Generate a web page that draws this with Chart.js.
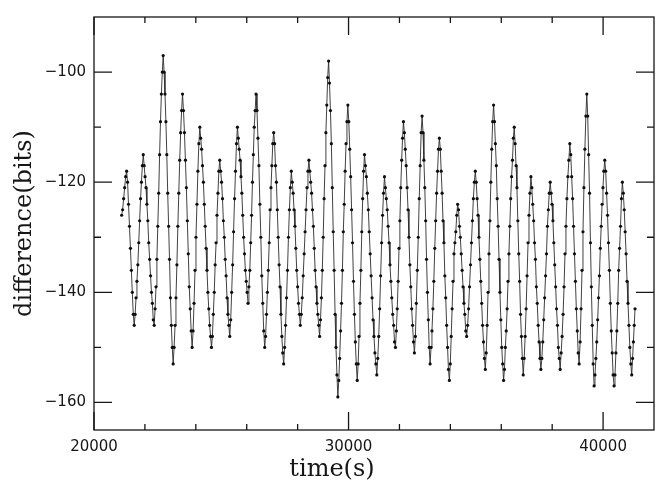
<!DOCTYPE html>
<html>
<head>
<meta charset="utf-8">
<script src="https://cdn.jsdelivr.net/npm/chart.js@4"></script>
<style>
  html, body { margin: 0; padding: 0; background: #fff; }
  #wrap { width: 658px; height: 485px; }
</style>
</head>
<body>
<div id="wrap"><canvas id="grafico" width="658" height="485"></canvas></div>
<script>
// sample times (s)
const times = [
  21086, 21125, 21164, 21204, 21243, 21282,
  21319, 21356, 21394, 21431, 21468, 21505, 21543, 21580,
  21616, 21651, 21687, 21722, 21758, 21793, 21829, 21864, 21900, 21935,
  21971, 22007, 22043, 22078, 22114, 22150, 22186, 22222, 22258, 22293, 22329, 22365,
  22400, 22436, 22471, 22506, 22542, 22577, 22612, 22647, 22683, 22718,
  22754, 22789, 22825, 22860, 22896, 22932, 22967, 23003, 23039, 23074, 23110,
  23147, 23184, 23220, 23257, 23294, 23331, 23368, 23404, 23441, 23478,
  23516, 23553, 23591, 23629, 23667, 23704, 23742, 23780, 23817, 23855,
  23893, 23930, 23968, 24006, 24044, 24081, 24119, 24157,
  24192, 24227, 24263, 24298, 24333, 24368, 24403, 24439, 24474, 24509, 24544, 24580, 24615,
  24651, 24687, 24724, 24760, 24796, 24832, 24869, 24905, 24941,
  24977, 25012, 25048, 25083, 25119, 25155, 25190, 25226, 25262, 25297, 25333,
  25371, 25408, 25446, 25484, 25522, 25559, 25597, 25635,
  25670, 25704, 25739, 25774, 25808, 25843, 25878, 25912, 25947, 25982, 26016, 26051,
  26086, 26121, 26156, 26191, 26225, 26260, 26295, 26330, 26365,
  26403, 26441, 26479, 26517, 26554, 26592, 26630, 26668, 26706,
  26741, 26777, 26812, 26847, 26883, 26918, 26953, 26988, 27024, 27059,
  27095, 27130, 27166, 27201, 27237, 27273, 27308, 27344, 27380, 27415, 27451,
  27489, 27526, 27564, 27601, 27639, 27677, 27714, 27752,
  27787, 27823, 27858, 27894, 27929, 27964, 28000, 28035, 28071, 28106,
  28143, 28181, 28218, 28256, 28293, 28330, 28368, 28405, 28443,
  28478, 28513, 28548, 28583, 28618, 28653, 28688, 28723, 28758, 28793, 28828, 28863,
  28898, 28934, 28969, 29004, 29040, 29075, 29110, 29145, 29181, 29216,
  29252, 29289, 29325, 29362, 29398, 29434, 29471, 29507, 29544, 29580,
  29616, 29651, 29687, 29723, 29759, 29794, 29830, 29866, 29902, 29937, 29973,
  30010, 30047, 30083, 30120, 30157, 30194, 30231, 30267, 30304, 30341,
  30377, 30413, 30448, 30484, 30520, 30556, 30591, 30627,
  30664, 30701, 30739, 30776, 30813, 30850, 30887, 30925, 30962, 30999, 31036, 31073, 31110,
  31148, 31186, 31223, 31261, 31299, 31337, 31374, 31412,
  31448, 31484, 31520, 31556, 31592, 31628, 31663, 31699, 31735, 31771, 31807, 31843,
  31878, 31913, 31948, 31983, 32017, 32052, 32087, 32122, 32157,
  32193, 32229, 32265, 32301, 32337, 32373, 32409, 32445, 32480, 32516, 32552, 32588,
  32626, 32663, 32701, 32739, 32777, 32814, 32852, 32890,
  32925, 32960, 32995, 33030, 33064, 33099, 33134, 33169, 33204,
  33241, 33277, 33314, 33350, 33387, 33423, 33460, 33496, 33533, 33569,
  33605, 33640, 33676, 33711, 33747, 33783, 33818, 33854, 33890, 33925, 33961,
  33997, 34033, 34069, 34105, 34142, 34178, 34214, 34250, 34286,
  34321, 34357, 34392, 34427, 34463, 34498, 34533, 34568, 34604, 34639,
  34677, 34715, 34753, 34791, 34828, 34866, 34904, 34942, 34980,
  35016, 35052, 35087, 35123, 35159, 35195, 35230, 35266, 35302, 35337, 35373,
  35409, 35445, 35481, 35517, 35554, 35590, 35626, 35662, 35698,
  35734, 35769, 35805, 35840, 35876, 35912, 35947, 35983, 36019, 36054, 36090,
  36125, 36160, 36195, 36230, 36265, 36300, 36335, 36370, 36405, 36440, 36475, 36510,
  36545, 36581, 36616, 36651, 36687, 36722, 36757, 36792, 36828, 36863,
  36901, 36938, 36976, 37014, 37052, 37089, 37127, 37165,
  37201, 37236, 37272, 37307, 37343, 37379, 37414, 37450, 37486, 37521, 37557,
  37594, 37630, 37667, 37703, 37740, 37776, 37813, 37849, 37886, 37922,
  37958, 37993, 38029, 38064, 38100, 38136, 38171, 38207, 38243, 38278, 38314,
  38352, 38390, 38428, 38466, 38504, 38541, 38579, 38617, 38655, 38693,
  38730, 38766, 38803, 38839, 38876, 38913, 38949, 38986, 39022, 39059,
  39097, 39134, 39172, 39210, 39247, 39285, 39322, 39360,
  39396, 39432, 39468, 39504, 39539, 39575, 39611, 39647,
  39682, 39717, 39751, 39786, 39821, 39856, 39891, 39926, 39960, 39995, 40030, 40065,
  40102, 40138, 40175, 40211, 40248, 40285, 40321, 40358, 40394, 40431,
  40467, 40503, 40540, 40576, 40612, 40648, 40685, 40721, 40757,
  40794, 40831, 40867, 40904, 40941, 40978, 41015, 41051, 41088, 41125,
  41158, 41190, 41223, 41255
];

// difference in bits, same order as times
const bits = [
  -126, -125, -123, -121, -119, -118,
  -120, -124, -128, -132, -136, -140, -144, -146,
  -144, -141, -138, -135, -131, -127, -123, -120, -117, -115,
  -117, -119, -121, -124, -127, -131, -134, -137, -140, -142, -145, -146,
  -143, -139, -134, -128, -122, -115, -109, -104, -100, -97,
  -100, -104, -109, -115, -122, -128, -134, -141, -146, -150, -153,
  -150, -146, -141, -135, -128, -122, -116, -111, -107, -104,
  -107, -111, -116, -121, -127, -133, -139, -143, -147, -150,
  -147, -142, -136, -130, -124, -118, -113, -110,
  -112, -114, -117, -120, -124, -128, -132, -136, -140, -143, -146, -148, -150,
  -148, -144, -140, -135, -131, -126, -122, -118, -116,
  -118, -120, -123, -127, -130, -134, -137, -141, -144, -146, -148,
  -145, -140, -135, -129, -123, -118, -113, -110,
  -112, -114, -116, -119, -122, -126, -130, -133, -136, -138, -140, -142,
  -139, -136, -131, -126, -120, -115, -110, -107, -104,
  -107, -112, -117, -124, -130, -137, -142, -147, -150,
  -148, -144, -140, -136, -131, -125, -121, -117, -113, -111,
  -113, -117, -120, -125, -130, -135, -139, -144, -148, -151, -153,
  -150, -146, -141, -136, -130, -125, -121, -118,
  -120, -122, -125, -128, -132, -136, -139, -142, -144, -146,
  -144, -141, -137, -133, -129, -125, -121, -118, -116,
  -118, -120, -122, -125, -128, -132, -136, -139, -142, -144, -146, -148,
  -145, -141, -136, -130, -123, -117, -111, -106, -101, -98,
  -102, -107, -113, -121, -129, -136, -144, -150, -155, -159,
  -156, -152, -147, -142, -136, -129, -124, -118, -113, -109, -106,
  -109, -114, -119, -125, -131, -138, -144, -149, -153, -156,
  -153, -148, -142, -136, -129, -123, -118, -115,
  -117, -119, -122, -125, -129, -133, -137, -141, -145, -148, -151, -153, -155,
  -152, -148, -143, -137, -131, -126, -122, -119,
  -121, -123, -125, -128, -131, -135, -138, -141, -144, -146, -149, -150,
  -147, -143, -138, -132, -127, -121, -116, -112, -109,
  -111, -114, -117, -121, -125, -130, -135, -139, -143, -146, -149, -151,
  -148, -142, -136, -130, -123, -117, -111, -108,
  -111, -116, -121, -127, -134, -140, -145, -150, -153,
  -150, -147, -143, -138, -132, -127, -122, -118, -114, -112,
  -114, -118, -122, -127, -131, -137, -141, -146, -150, -154, -156,
  -153, -148, -143, -138, -133, -131, -129, -126, -124,
  -125, -128, -130, -133, -136, -139, -142, -144, -147, -148,
  -146, -143, -139, -135, -131, -127, -123, -120, -118,
  -120, -123, -126, -130, -134, -138, -142, -146, -149, -152, -154,
  -151, -146, -140, -133, -127, -120, -114, -109, -106,
  -109, -113, -117, -123, -128, -134, -140, -145, -150, -153, -156,
  -154, -150, -147, -143, -138, -133, -128, -123, -119, -116, -112, -110,
  -113, -117, -121, -127, -133, -138, -144, -148, -152, -155,
  -152, -148, -143, -137, -131, -126, -122, -119,
  -121, -124, -127, -131, -134, -139, -142, -146, -149, -152, -154,
  -152, -149, -145, -141, -137, -133, -128, -125, -122, -120,
  -122, -124, -127, -131, -135, -139, -143, -146, -150, -152, -154,
  -151, -148, -144, -139, -133, -128, -123, -119, -116, -113,
  -115, -119, -123, -128, -133, -138, -143, -147, -151, -153,
  -149, -143, -136, -129, -121, -114, -108, -104,
  -108, -115, -122, -131, -139, -146, -153, -157,
  -155, -152, -149, -145, -141, -137, -132, -128, -124, -121, -118, -116,
  -118, -122, -126, -131, -136, -142, -147, -151, -155, -157,
  -155, -151, -147, -142, -136, -132, -128, -123, -120,
  -122, -125, -129, -133, -138, -142, -146, -150, -153, -155,
  -152, -149, -146, -143
];

const xMajor = [20000, 30000, 40000];
const xMinor = [22000, 24000, 26000, 28000, 32000, 34000, 36000, 38000];
const yMajor = [-160, -140, -120, -100];
const yMinor = [-150, -130, -110];

const tinta = '#161616';

// frame, inward ticks on all four sides, x title
const moldura = {
  id: 'moldura',
  afterDatasetsDraw(chart) {
    const { ctx, chartArea: a, scales: { x, y } } = chart;
    ctx.save();
    ctx.strokeStyle = tinta;
    ctx.lineWidth = 1.3;
    ctx.beginPath();
    const marcaX = (v, len) => {
      const px = x.getPixelForValue(v);
      ctx.moveTo(px, a.bottom); ctx.lineTo(px, a.bottom - len);
      ctx.moveTo(px, a.top); ctx.lineTo(px, a.top + len);
    };
    const marcaY = (v, len) => {
      const py = y.getPixelForValue(v);
      ctx.moveTo(a.left, py); ctx.lineTo(a.left + len, py);
      ctx.moveTo(a.right, py); ctx.lineTo(a.right - len, py);
    };
    xMajor.forEach(v => marcaX(v, 18));
    xMinor.forEach(v => marcaX(v, 6));
    yMajor.forEach(v => marcaY(v, 18));
    yMinor.forEach(v => marcaY(v, 7));
    ctx.stroke();
    ctx.strokeRect(a.left, a.top, a.right - a.left, a.bottom - a.top);

    ctx.fillStyle = tinta;
    ctx.font = '24px "DejaVu Serif"';
    ctx.textAlign = 'center';
    ctx.textBaseline = 'middle';
    ctx.fillText('time(s)', 332, 470);
    ctx.restore();
  }
};

const ctx = document.getElementById('grafico').getContext('2d');
new Chart(ctx, {
  type: 'line',
  data: {
    datasets: [{
      data: times.map((t, i) => ({ x: t, y: bits[i] })),
      borderColor: '#2b2b2b',
      borderWidth: 0.9,
      pointRadius: 1.6,
      pointBackgroundColor: '#0d0d0d',
      pointBorderWidth: 0,
      tension: 0
    }]
  },
  options: {
    responsive: false,
    animation: false,
    layout: { padding: { top: 14, right: 4, left: 0, bottom: 0 } },
    plugins: { legend: { display: false }, tooltip: { enabled: false } },
    scales: {
      x: {
        type: 'linear',
        min: 20000,
        max: 42000,
        grid: { display: false, drawTicks: false },
        border: { display: false },
        afterBuildTicks: s => { s.ticks = xMajor.map(v => ({ value: v })); },
        afterFit: s => { s.height = 55; },
        ticks: {
          padding: 8,
          color: tinta,
          font: { family: 'DejaVu Sans', size: 15 },
          maxRotation: 0,
          callback: v => String(v)
        }
      },
      y: {
        min: -165,
        max: -90,
        grid: { display: false, drawTicks: false },
        border: { display: false },
        afterBuildTicks: s => { s.ticks = yMajor.map(v => ({ value: v })); },
        afterFit: s => { s.width = 94; },
        title: {
          display: true,
          text: 'difference(bits)',
          color: tinta,
          font: { family: 'DejaVu Serif', size: 24 },
          padding: { top: 10, bottom: 0 }
        },
        ticks: {
          padding: 8,
          color: tinta,
          font: { family: 'DejaVu Sans', size: 15 },
          callback: v => (v < 0 ? '\u2212' : '') + Math.abs(v)
        }
      }
    }
  },
  plugins: [moldura]
});
</script>
</body>
</html>
